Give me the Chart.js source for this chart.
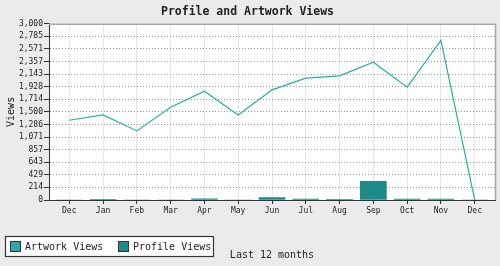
<!DOCTYPE html>
<html>
<head>
<meta charset="utf-8">
<script src="https://cdn.jsdelivr.net/npm/chart.js@4/dist/chart.umd.min.js"></script>
<style>
html,body{margin:0;padding:0;background:#ebebeb;}
canvas{display:block;}
</style>
</head>
<body>
<canvas id="c" width="500" height="266"></canvas>
<script>
const chartTitle = 'Profile and Artwork Views';
const xAxisTitle = 'Last 12 months';
const yAxisTitle = 'Views';
const categories = ['Dec','Jan','Feb','Mar','Apr','May','Jun','Jul','Aug','Sep','Oct','Nov','Dec'];
const artworkViews = [1358, 1449, 1176, 1580, 1853, 1449, 1875, 2074, 2114, 2347, 1921, 2716, 0];
const profileViews = [0, 5, 0, 0, 20, 0, 40, 15, 3, 319, 15, 15, 0];
const yTickLabels = ['0','214','429','643','857','1,071','1,286','1,500','1,714','1,928','2,143','2,357','2,571','2,785','3,000'];
const yMax = 3000;

const artworkColor = '#29abab';
const profileColor = '#1d8a89';
const MONO = '"DejaVu Sans Mono", "Liberation Mono", monospace';

const yTickValues = yTickLabels.map((_, i) => i * yMax / (yTickLabels.length - 1));

const framePlugin = {
  id: 'frame',
  beforeDraw(chart) {
    const {ctx, chartArea: a} = chart;
    ctx.save();
    ctx.fillStyle = '#ffffff';
    ctx.fillRect(a.left, a.top, a.right - a.left, a.bottom - a.top);
    ctx.restore();
  },
  beforeDatasetsDraw(chart) {
    const {ctx, chartArea: a} = chart;
    ctx.save();
    ctx.strokeStyle = '#a8a8a8';
    ctx.lineWidth = 1.5;
    ctx.beginPath();
    ctx.moveTo(a.left, a.top + 0.5);
    ctx.lineTo(a.right + 0.5, a.top + 0.5);
    ctx.lineTo(a.right + 0.5, a.bottom);
    ctx.stroke();
    ctx.restore();
  },
  afterDraw(chart) {
    const {ctx} = chart;
    ctx.save();
    ctx.fillStyle = '#ffffff';
    ctx.fillRect(5, 236, 208, 20);
    ctx.strokeStyle = '#333333';
    ctx.lineWidth = 1.2;
    ctx.strokeRect(5.5, 236.5, 208, 20);
    const items = [
      {ds: chart.data.datasets[0], sx: 10, tx: 25},
      {ds: chart.data.datasets[1], sx: 118, tx: 133}
    ];
    ctx.font = '10px ' + MONO;
    ctx.textBaseline = 'middle';
    items.forEach(it => {
      ctx.fillStyle = it.ds.legendColor;
      ctx.fillRect(it.sx, 241, 11, 11);
      ctx.strokeStyle = '#333333';
      ctx.lineWidth = 1;
      ctx.strokeRect(it.sx + 0.5, 241.5, 10, 10);
      ctx.fillStyle = '#222222';
      ctx.fillText(it.ds.label, it.tx, 247);
    });
    ctx.restore();
  }
};

new Chart(document.getElementById('c'), {
  type: 'bar',
  data: {
    datasets: [
      {
        type: 'line',
        label: 'Artwork Views',
        legendColor: artworkColor,
        data: artworkViews.map((v, i) => ({x: i, y: v})),
        borderColor: artworkColor,
        borderWidth: 1.2,
        pointRadius: 0,
        tension: 0,
        fill: false,
        order: 0
      },
      {
        type: 'bar',
        label: 'Profile Views',
        legendColor: profileColor,
        data: profileViews.map((v, i) => ({x: i, y: v})),
        backgroundColor: profileColor,
        borderWidth: 0,
        barThickness: 26,
        order: 1
      }
    ]
  },
  options: {
    responsive: false,
    animation: false,
    devicePixelRatio: 1,
    layout: {padding: {left: 0, right: 5, top: 0, bottom: 0}},
    plugins: {
      legend: {display: false},
      tooltip: {enabled: false},
      title: {
        display: true,
        text: chartTitle,
        color: '#222222',
        font: {family: MONO, size: 11.5, weight: 'bold', lineHeight: 1.2},
        padding: {top: 5, bottom: 5}
      }
    },
    scales: {
      x: {
        type: 'linear',
        offset: false,
        min: -0.6,
        max: categories.length - 1 + 0.6,
        afterBuildTicks(scale) {
          scale.ticks = categories.map((_, i) => ({value: i}));
        },
        afterFit(scale) { scale.height = 66; },
        ticks: {
          autoSkip: false,
          maxRotation: 0,
          padding: 2,
          color: '#222222',
          font: {family: MONO, size: 8},
          callback: (v) => categories[v]
        },
        grid: {
          offset: false,
          color: '#e6e6e6',
          lineWidth: 1,
          tickColor: '#333333',
          tickLength: 4,
          tickWidth: 1
        },
        border: {display: true, color: '#333333', width: 1},
        title: {
          display: true,
          text: xAxisTitle,
          color: '#222222',
          font: {family: MONO, size: 10, lineHeight: 1.2},
          padding: {top: 0, bottom: 5}
        }
      },
      y: {
        type: 'linear',
        min: 0,
        max: yMax,
        afterBuildTicks(scale) {
          scale.ticks = yTickValues.map(v => ({value: v}));
        },
        afterFit(scale) { scale.width = 49; },
        ticks: {
          autoSkip: false,
          padding: 1,
          color: '#222222',
          font: {family: MONO, size: 8},
          callback: (v, i) => yTickLabels[i]
        },
        grid: {
          color: (ctx) => (ctx.index === 0 || ctx.index === yTickValues.length - 1) ? 'rgba(0,0,0,0)' : '#9a9a9a',
          lineWidth: 1,
          tickColor: '#333333',
          tickLength: 5,
          tickWidth: 1,
          tickBorderDash: []
        },
        border: {display: true, color: '#333333', width: 1, dash: [1, 2]},
        title: {
          display: true,
          text: yAxisTitle,
          color: '#222222',
          font: {family: MONO, size: 10, lineHeight: 1.2},
          padding: {top: 5.5, bottom: 0}
        }
      }
    }
  },
  plugins: [framePlugin]
});
</script>
</body>
</html>
